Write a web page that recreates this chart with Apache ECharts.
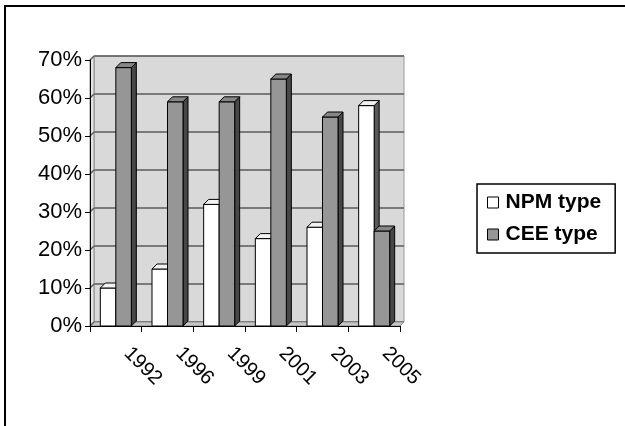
<!DOCTYPE html>
<html>
<head>
<meta charset="utf-8">
<script src="https://cdn.jsdelivr.net/npm/echarts@6/dist/echarts.min.js"></script>
<style>
  html, body { margin: 0; padding: 0; background: #fff; }
  #chart { width: 625px; height: 426px; }
</style>
</head>
<body>
<div id="chart"></div>
<script>
// Survey years and shares of each administrative model (%)
const years = ['1992', '1996', '1999', '2001', '2003', '2005'];
const npmType = [10, 15, 32, 23, 26, 58];
const ceeType = [68, 59, 59, 65, 55, 25];
const yTicks = [0, 10, 20, 30, 40, 50, 60, 70];

const FONT = 'Liberation Sans, Arial, sans-serif';
const WALL = [4, -4];   // depth offset of the back wall
const DEPTH = [5, -5];  // depth offset of each column

// Pseudo-3D column: front face, top face and right side face
function column(side, front, topC, sideC) {
  return function (params, api) {
    const cat = api.value(0);
    const val = api.value(1);
    const top = api.coord([cat, val]);
    const base = api.coord([cat, 0]);
    const w = api.size([1, 0])[0] * 0.3;
    const x0 = side < 0 ? top[0] - w : top[0];
    const x1 = x0 + w;
    const yT = top[1], yB = base[1];
    const dx = DEPTH[0], dy = DEPTH[1];
    const stroke = { stroke: '#000', lineWidth: 1 };
    return {
      type: 'group',
      children: [
        { type: 'polygon', shape: { points: [[x1, yT], [x1 + dx, yT + dy], [x1 + dx, yB + dy], [x1, yB]] },
          style: Object.assign({ fill: sideC }, stroke) },
        { type: 'rect', shape: { x: x0, y: yT, width: w, height: yB - yT },
          style: Object.assign({ fill: front }, stroke) },
        { type: 'polygon', shape: { points: [[x0, yT], [x0 + dx, yT + dy], [x1 + dx, yT + dy], [x1, yT]] },
          style: Object.assign({ fill: topC }, stroke) }
      ]
    };
  };
}

const chart = echarts.init(document.getElementById('chart'), null, { renderer: 'canvas' });

chart.setOption({
  animation: false,
  backgroundColor: '#fff',
  grid: [
    // front plane (axes)
    { left: 90, right: 225, top: 60, bottom: 100 },
    // back wall
    { left: 90 + WALL[0], right: 225 - WALL[0], top: 60 + WALL[1], bottom: 100 - WALL[1],
      show: true, backgroundColor: '#d9d9d9', borderColor: '#9a9a9a', borderWidth: 1 }
  ],
  xAxis: [
    {
      type: 'category', data: years, gridIndex: 0, boundaryGap: true, z: 10,
      axisLine: { show: true, lineStyle: { color: '#000', width: 1 } },
      axisTick: { show: true, length: 6, lineStyle: { color: '#000' } },
      axisLabel: {
        rotate: -45, margin: 13, padding: [0, 0, 0, 16],
        color: '#000', fontFamily: FONT, fontSize: 20
      }
    },
    { type: 'category', data: years, gridIndex: 1, show: false }
  ],
  yAxis: [
    {
      type: 'value', gridIndex: 0, min: 0, max: 70, interval: 10, z: 10,
      axisLine: { show: true, lineStyle: { color: '#000', width: 1 } },
      axisTick: { show: true, length: 5, lineStyle: { color: '#000' } },
      axisLabel: { formatter: '{value}%', margin: 8, color: '#000', fontFamily: FONT, fontSize: 22 },
      splitLine: { show: false }
    },
    {
      type: 'value', gridIndex: 1, min: 0, max: 70, interval: 10,
      axisLine: { show: false }, axisTick: { show: false }, axisLabel: { show: false },
      splitLine: { show: true, lineStyle: { color: '#5a5a5a', width: 1.5 } }
    }
  ],
  legend: {
    orient: 'vertical',
    left: 477, top: 184,
    padding: [8, 14, 8, 10],
    itemGap: 11,
    itemWidth: 11, itemHeight: 11,
    borderColor: '#000', borderWidth: 1.5, backgroundColor: '#fff',
    textStyle: { color: '#000', fontFamily: FONT, fontSize: 21, fontWeight: 'bold', lineHeight: 20, padding: [0, 0, 0, 2] },
    data: [
      { name: 'NPM type', icon: 'rect', itemStyle: { color: '#fff', borderColor: '#000', borderWidth: 1 } },
      { name: 'CEE type', icon: 'rect', itemStyle: { color: '#969696', borderColor: '#000', borderWidth: 1 } }
    ]
  },
  series: [
    {
      // side wall and floor
      type: 'custom', xAxisIndex: 0, yAxisIndex: 0, z: 1, silent: true,
      data: [[0, 0]],
      renderItem: function (params, api) {
        const c = params.coordSys;
        const dx = WALL[0], dy = WALL[1];
        const b = c.y + c.height;
        return {
          type: 'group',
          children: [
            { type: 'polygon', shape: { points: [[c.x, c.y], [c.x + dx, c.y + dy], [c.x + dx, b + dy], [c.x, b]] },
              style: { fill: '#e4e4e4', stroke: '#8a8a8a', lineWidth: 1 } },
            { type: 'polygon', shape: { points: [[c.x, b], [c.x + dx, b + dy], [c.x + c.width + dx, b + dy], [c.x + c.width, b]] },
              style: { fill: '#c6c6c6', stroke: '#8a8a8a', lineWidth: 1 } }
          ]
        };
      }
    },
    {
      // gridlines running across the side wall
      type: 'custom', xAxisIndex: 0, yAxisIndex: 0, z: 1, silent: true,
      data: yTicks.map(function (v) { return [0, v]; }),
      renderItem: function (params, api) {
        const c = params.coordSys;
        const y = api.coord([0, api.value(1)])[1];
        return { type: 'line', shape: { x1: c.x, y1: y, x2: c.x + WALL[0], y2: y + WALL[1] },
          style: { stroke: '#5a5a5a', lineWidth: 1.5 } };
      }
    },
    {
      name: 'NPM type', type: 'custom', xAxisIndex: 0, yAxisIndex: 0, z: 3,
      itemStyle: { color: '#fff', borderColor: '#000' },
      data: npmType.map(function (v, i) { return [i, v]; }),
      renderItem: column(-1, '#ffffff', '#f2f2f2', '#595959')
    },
    {
      name: 'CEE type', type: 'custom', xAxisIndex: 0, yAxisIndex: 0, z: 4,
      itemStyle: { color: '#969696', borderColor: '#000' },
      data: ceeType.map(function (v, i) { return [i, v]; }),
      renderItem: column(1, '#969696', '#878787', '#474747')
    }
  ],
  graphic: [
    { type: 'rect', silent: true, z: 100, shape: { x: 5, y: 6, width: 660, height: 460 },
      style: { fill: 'none', stroke: '#000', lineWidth: 2 } }
  ]
});
</script>
</body>
</html>
